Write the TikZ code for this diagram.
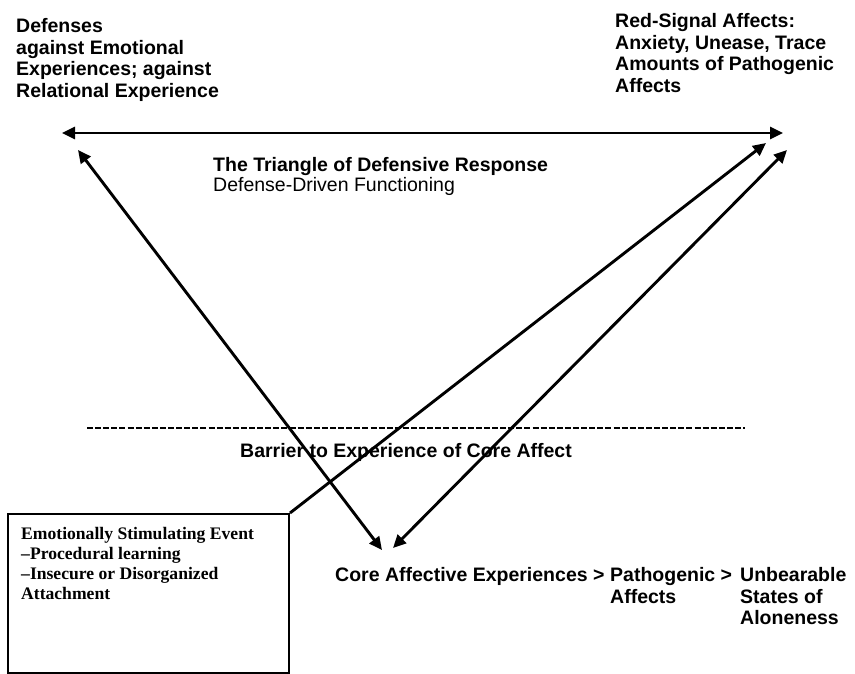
\documentclass[tikz,border=0pt]{standalone}
\usepackage{fontspec}
\setmainfont{Liberation Serif}
\setsansfont{Liberation Sans}
\usetikzlibrary{arrows.meta}
\begin{document}
\begin{tikzpicture}[x=1pt,y=-1pt,
  lbl/.style={font=\sffamily\bfseries\fontsize{19.5}{21.7}\selectfont, inner sep=0pt, align=left},
  plain/.style={font=\sffamily\fontsize{19.5}{20}\selectfont, inner sep=0pt, align=left},
  boxtext/.style={font=\rmfamily\bfseries\fontsize{17.6}{20}\selectfont, inner sep=0pt, align=left},
  tipa/.tip={Triangle[length=13pt,width=12pt]},
  both/.style={line width=2.9pt, tipa-tipa},
  single/.style={line width=2.9pt, -tipa},
  barrierline/.style={line width=2.4pt, dash pattern=on 6pt off 2.1pt},
  eventbox/.style={draw, line width=2pt, minimum width=281pt, minimum height=159pt, inner sep=0pt}
]
\useasboundingbox (0,0) rectangle (855,674);

% texts
\node[lbl, anchor=north west] (defenses) at (16,18)
  {Defenses\\against Emotional\\Experiences; against\\Relational Experience};
\node[lbl, anchor=north west] (redsignal) at (615,13)
  {Red-Signal Affects:\\Anxiety, Unease, Trace\\Amounts of Pathogenic\\Affects};
\node[plain, anchor=north west] (triangle) at (213,157)
  {\textbf{The Triangle of Defensive Response}\\Defense-Driven Functioning};
\node[lbl] (barrier) at (406,452) {Barrier to Experience of Core Affect};
\node[lbl, anchor=base west] (core) at (335,581) {Core Affective Experiences >};
\node[lbl, anchor=north west] (patho) at (610,567) {Pathogenic >\\Affects};
\node[lbl, anchor=north west] (unbear) at (740,567) {Unbearable\\States of\\Aloneness};

% event box
\node[eventbox, anchor=north west] (box) at (7,513) {};
\node[boxtext, anchor=north west] (event) at (21,527)
  {Emotionally Stimulating Event\\--Procedural learning\\--Insecure or Disorganized\\Attachment};

% barrier line
\coordinate (bl) at (87,428);
\coordinate (br) at (745,428);
\draw[barrierline] (bl) -- (br);

% arrow end points
\coordinate (hl) at (62,133);
\coordinate (hr) at (783,133);
\coordinate (da) at (78,150);
\coordinate (db) at (382,550);
\coordinate (ea) at (766,143);
\coordinate (fa) at (787,150);
\coordinate (fb) at (393,548);

\draw[both] (hl) -- (hr);
\draw[both] (da) -- (db);
\draw[single] (box.north east) -- (ea);
\draw[both] (fb) -- (fa);
\end{tikzpicture}
\end{document}
